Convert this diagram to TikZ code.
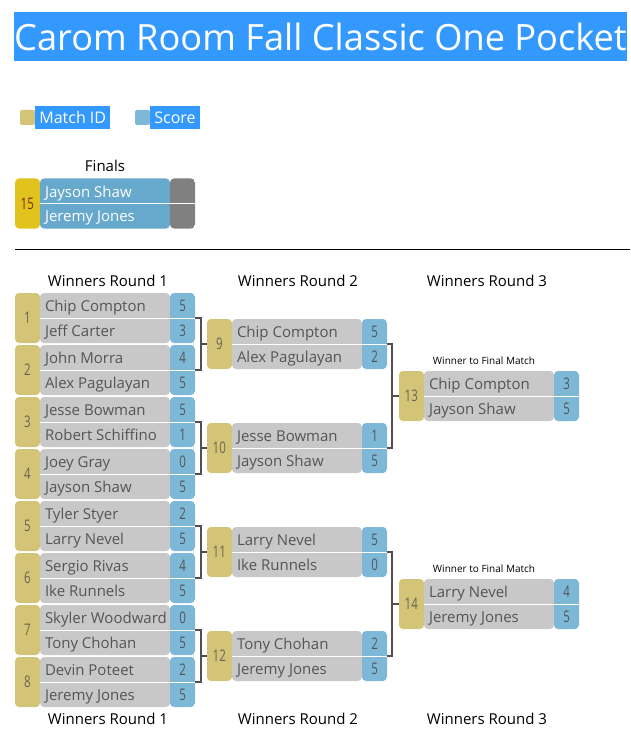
\documentclass[tikz,border=0pt]{standalone}
\usepackage{fontspec}
\setmainfont{Open Sans}
\newfontfamily\narrowfont[FakeStretch=0.72]{Open Sans}
\usetikzlibrary{positioning}

\definecolor{titleblue}{HTML}{3399FF}
\definecolor{idgold}{HTML}{D4C478}
\definecolor{namegrey}{HTML}{C8C8C8}
\definecolor{scoreblue}{HTML}{7DB9D7}
\definecolor{textgrey}{HTML}{555555}
\definecolor{idtextcol}{HTML}{6B6450}
\definecolor{finalyellow}{HTML}{E2C31E}
\definecolor{finalblue}{HTML}{66A9CC}
\definecolor{finalgrey}{HTML}{808080}
\definecolor{finalid}{HTML}{7A2E0E}
\definecolor{linkgrey}{HTML}{505050}

% colours used inside a match box (changed for the finals)
\colorlet{idfill}{idgold}
\colorlet{namefill}{namegrey}
\colorlet{scorefill}{scoreblue}
\colorlet{playertext}{textgrey}
\colorlet{idtext}{idtextcol}

\tikzset{
    matchbox/.style={rounded corners=4pt, inner sep=0pt,
        minimum width=180pt, minimum height=50pt,
        path picture={
            \fill[idfill] (path picture bounding box.north west) rectangle ([xshift=25pt]path picture bounding box.south west);
            \fill[namefill] ([xshift=25pt]path picture bounding box.north west) rectangle ([xshift=-25pt]path picture bounding box.south east);
            \fill[scorefill] ([xshift=-25pt]path picture bounding box.north east) rectangle (path picture bounding box.south east);
            \draw[white, line width=1pt] ([xshift=25pt]path picture bounding box.west) -- (path picture bounding box.east);
        }},
    idlabel/.style={text=idtext, font=\narrowfont\fontsize{16}{18}\selectfont, inner sep=0pt},
    player/.style={anchor=base west, text=playertext, font=\fontsize{15}{18}\selectfont, inner sep=0pt},
    score/.style={anchor=base, text=playertext, font=\narrowfont\fontsize{16}{18}\selectfont, inner sep=0pt},
    roundhead/.style={font=\fontsize{15}{18}\selectfont},
    tofinal/.style={font=\fontsize{10}{12}\selectfont},
    bracket/.style={draw=linkgrey, line width=2pt},
    legendkey/.style={rounded corners=2pt, minimum width=15pt, minimum height=15pt, inner sep=0pt},
    legendlabel/.style={fill=titleblue, text=white, font=\fontsize{16}{18}\selectfont,
        minimum height=23pt, inner xsep=4pt, inner ysep=0pt},
}

% name, centre, match id, player 1, score 1, player 2, score 2
\newcommand{\matchup}[7]{%
  \node[matchbox] (#1) at (#2) {};
  \node[idlabel] (#1-id) at ([xshift=12.5pt]#1.west) {#3};
  \node[player] (#1-top) at ([xshift=30pt,yshift=6.5pt]#1.west) {#4};
  \node[score] (#1-topscore) at ([xshift=-12.5pt,yshift=6.5pt]#1.east) {#5};
  \node[player] (#1-bot) at ([xshift=30pt,yshift=-18.5pt]#1.west) {#6};
  \node[score] (#1-botscore) at ([xshift=-12.5pt,yshift=-18.5pt]#1.east) {#7};
}

\begin{document}
\begin{tikzpicture}[x=1pt, y=-1pt]
  \useasboundingbox (0,0) rectangle (630,751);

  % title and legend
  \node[fill=titleblue, text=white, minimum width=611pt, minimum height=49pt, inner sep=0pt,
      font=\fontsize{36.2}{38}\selectfont] (title) at (320.5,36.5) {Carom Room Fall Classic One Pocket};
  \node[legendkey, fill=idgold] (keyid) at (27.5,117.5) {};
  \node[legendlabel, right=0pt of keyid] (lblid) {Match ID};
  \node[legendkey, fill=scoreblue] (keyscore) at (142.5,117.5) {};
  \node[legendlabel, right=0pt of keyscore] (lblscore) {Score};

  % finals
  \node[roundhead] (finals) at (105,166) {Finals};
  \begin{scope}
    \colorlet{idfill}{finalyellow}
    \colorlet{namefill}{finalblue}
    \colorlet{scorefill}{finalgrey}
    \colorlet{playertext}{white}
    \colorlet{idtext}{finalid}
    \matchup{m15}{105,203.5}{15}{Jayson Shaw}{}{Jeremy Jones}{}
  \end{scope}

  \draw[line width=1pt] (15,249) -- (630,249);

  % round headers
  \node[roundhead] (top1) at (108,281) {Winners Round 1};
  \node[roundhead] (top2) at (298,281) {Winners Round 2};
  \node[roundhead] (top3) at (487,281) {Winners Round 3};
  \node[roundhead] (bot1) at (108,719) {Winners Round 1};
  \node[roundhead] (bot2) at (298,719) {Winners Round 2};
  \node[roundhead] (bot3) at (487,719) {Winners Round 3};

  % winners round 1
  \matchup{m1}{105,318}{1}{Chip Compton}{5}{Jeff Carter}{3}
  \matchup{m2}{105,370}{2}{John Morra}{4}{Alex Pagulayan}{5}
  \matchup{m3}{105,422}{3}{Jesse Bowman}{5}{Robert Schiffino}{1}
  \matchup{m4}{105,474}{4}{Joey Gray}{0}{Jayson Shaw}{5}
  \matchup{m5}{105,526}{5}{Tyler Styer}{2}{Larry Nevel}{5}
  \matchup{m6}{105,578}{6}{Sergio Rivas}{4}{Ike Runnels}{5}
  \matchup{m7}{105,630}{7}{Skyler Woodward}{0}{Tony Chohan}{5}
  \matchup{m8}{105,682}{8}{Devin Poteet}{2}{Jeremy Jones}{5}

  % winners round 2
  \matchup{m9}{297,344}{9}{Chip Compton}{5}{Alex Pagulayan}{2}
  \matchup{m10}{297,448}{10}{Jesse Bowman}{1}{Jayson Shaw}{5}
  \matchup{m11}{297,552}{11}{Larry Nevel}{5}{Ike Runnels}{0}
  \matchup{m12}{297,656}{12}{Tony Chohan}{2}{Jeremy Jones}{5}

  % winners round 3
  \node[tofinal] (final13) at (484,361) {Winner to Final Match};
  \matchup{m13}{489,396}{13}{Chip Compton}{3}{Jayson Shaw}{5}
  \node[tofinal] (final14) at (484,569) {Winner to Final Match};
  \matchup{m14}{489,604}{14}{Larry Nevel}{4}{Jeremy Jones}{5}

  % brackets
  \draw[bracket] (m1.east) -- ++(6,0) coordinate (j1) |- (m2.east);
  \draw[bracket] (j1 |- m9.west) -- (m9.west);
  \draw[bracket] (m3.east) -- ++(6,0) coordinate (j3) |- (m4.east);
  \draw[bracket] (j3 |- m10.west) -- (m10.west);
  \draw[bracket] (m5.east) -- ++(6,0) coordinate (j5) |- (m6.east);
  \draw[bracket] (j5 |- m11.west) -- (m11.west);
  \draw[bracket] (m7.east) -- ++(6,0) coordinate (j7) |- (m8.east);
  \draw[bracket] (j7 |- m12.west) -- (m12.west);
  \draw[bracket] (m9.east) -- ++(5,0) coordinate (j9) |- (m10.east);
  \draw[bracket] (j9 |- m13.west) -- (m13.west);
  \draw[bracket] (m11.east) -- ++(5,0) coordinate (j11) |- (m12.east);
  \draw[bracket] (j11 |- m14.west) -- (m14.west);
\end{tikzpicture}
\end{document}
